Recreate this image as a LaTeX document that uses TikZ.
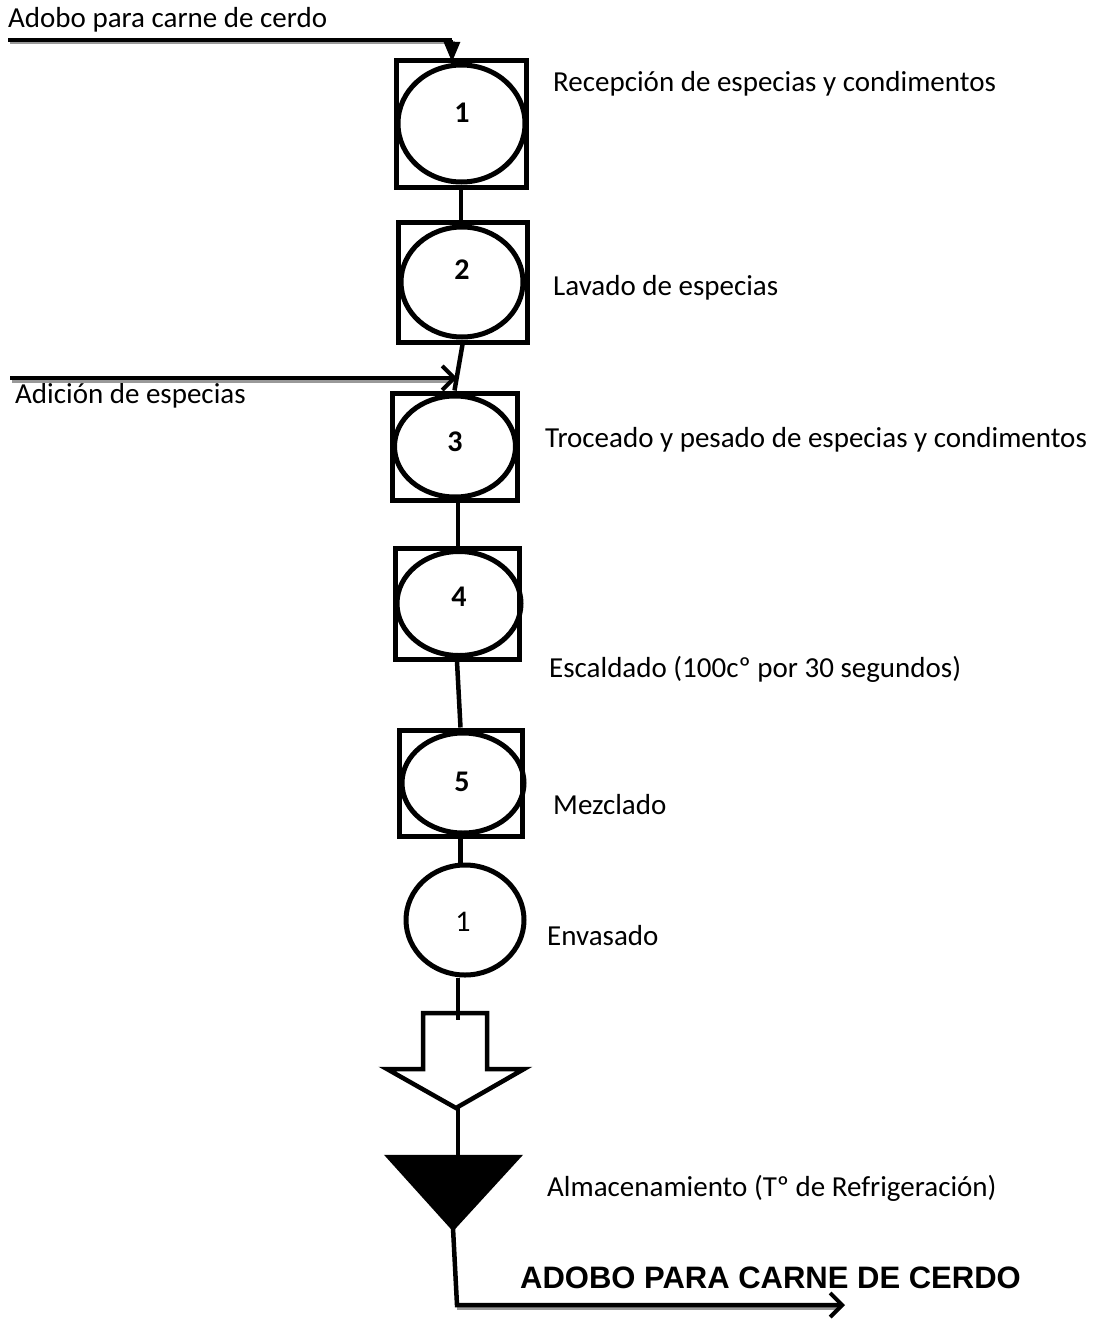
\documentclass[tikz,border=0pt]{standalone}
\usepackage{fontspec}
\setmainfont{Carlito}
\newfontfamily\arialfont{Liberation Sans}
\usetikzlibrary{shapes.geometric,arrows.meta}
\begin{document}
\begin{tikzpicture}[x=1pt,y=-1pt,
  sbox/.style={draw,line width=5pt,rectangle,inner sep=0pt},
  circ/.style={draw,line width=5pt,ellipse,inner sep=0pt},
  lbl/.style={anchor=west,inner sep=0pt,font=\fontsize{29}{34}\selectfont},
  num/.style={inner sep=0pt,font=\fontsize{30}{34}\selectfont\bfseries},
  conn/.style={line width=4.5pt},
  shade/.style={line width=3pt,black!40},
  chev/.style={-{Straight Barb[length=12pt,width=24pt,line width=4pt]}}]
\useasboundingbox (0,0) rectangle (1104,1343);
% operation boxes with circles
\node[sbox,minimum width=130pt,minimum height=127pt] (b1) at (461,124.5) {};
\node[circ,minimum width=127pt,minimum height=117pt] (c1) at (461.5,123.5) {};
\node[num] (n1) at (462,113) {1};
\node[sbox,minimum width=129pt,minimum height=120pt] (b2) at (462.5,282) {};
\node[circ,minimum width=122pt,minimum height=110pt] (c2) at (462,282) {};
\node[num] (n2) at (462,270) {2};
\node[sbox,minimum width=125pt,minimum height=107pt] (b3) at (454.5,446.5) {};
\node[circ,minimum width=121pt,minimum height=101pt] (c3) at (455,446.5) {};
\node[num] (n3) at (455,442) {3};
\node[sbox,minimum width=124pt,minimum height=111pt] (b4) at (457,603.5) {};
\node[circ,minimum width=124pt,minimum height=104pt] (c4) at (459,603.5) {};
\node[num] (n4) at (459,597) {4};
\node[sbox,minimum width=123pt,minimum height=106pt] (b5) at (460.5,783) {};
\node[circ,minimum width=122pt,minimum height=100pt] (c5) at (463,783) {};
\node[num] (n5) at (462,782) {5};
\node[circ,minimum width=118pt,minimum height=110pt] (c6) at (465,920) {};
\node[inner sep=0pt,font=\fontsize{30}{34}\selectfont] (n6) at (463,922) {1};
% labels
\node[lbl] (t0) at (8,20) {Adobo para carne de cerdo};
\node[lbl] (t1) at (553,84) {Recepción de especias y condimentos};
\node[lbl] (t2) at (553,288) {Lavado de especias};
\node[lbl] (ta) at (15,396) {Adición de especias};
\node[lbl] (t3) at (545,440) {Troceado y pesado de especias y condimentos};
\node[lbl] (t4) at (549,669) {Escaldado (100cº por 30 segundos)};
\node[lbl] (t5) at (553,805) {Mezclado};
\node[lbl] (t6) at (547,936) {Envasado};
\node[lbl] (t7) at (547,1188) {Almacenamiento (Tº de Refrigeración)};
\node[anchor=west,inner sep=0pt,font=\arialfont\bfseries\fontsize{31}{36}\selectfont] (t8) at (520,1278) {ADOBO PARA CARNE DE CERDO};
% connectors between operations
\draw[conn] (b1.south) -- (b1.south |- b2.north);
\draw[conn] (b2.south) -- (b3.north);
\draw[conn] (b3.south -| 458,0) -- (458,0 |- b4.north);
\draw[conn] (b4.south) -- (b5.north);
\draw[conn] (b5.south) -- (b5.south |- c6.north);
% transport arrow
\coordinate (dtop) at (458,1020);
\coordinate (dtip) at (456,1108);
\draw[conn] (dtop |- c6.south) -- (dtop);
\draw[line width=4.5pt,fill=white,line join=miter] (423,1013) -- (487,1013) -- (487,1069) -- (524,1069) -- (dtip) -- (387,1069) -- (423,1069) -- cycle;
\draw[conn] (dtop |- 0,1010) -- (dtop);
% storage triangle
\coordinate (ttop) at (458,1160);
\coordinate (ttip) at (453,1228);
\draw[conn] (dtip -| ttop) -- (ttop);
\draw[line width=4.5pt,fill=black,line join=miter] (389,1157) -- (518,1157) -- (ttip) -- cycle;
% output arrow
\coordinate (corner) at (457,1305);
\coordinate (outend) at (845,1305);
\draw[shade] (457,1308) -- (840,1308);
\draw[conn,chev] (ttip) -- (corner) -- (outend);
% input arrow top
\coordinate (instart) at (8,40);
\coordinate (inbend) at (452,40);
\coordinate (intip) at (452,62);
\draw[shade] (10,43) -- (455,43);
\draw[line width=4.5pt] (instart) -- (inbend);
\draw[line width=2.5pt,-{Triangle[length=20pt,width=16pt]}] (inbend) -- (intip);
% addition arrow
\coordinate (addstart) at (10,378);
\coordinate (addtip) at (457,378);
\draw[shade] (12,381) -- (450,381);
\draw[conn,chev] (addstart) -- (addtip);
\end{tikzpicture}
\end{document}
